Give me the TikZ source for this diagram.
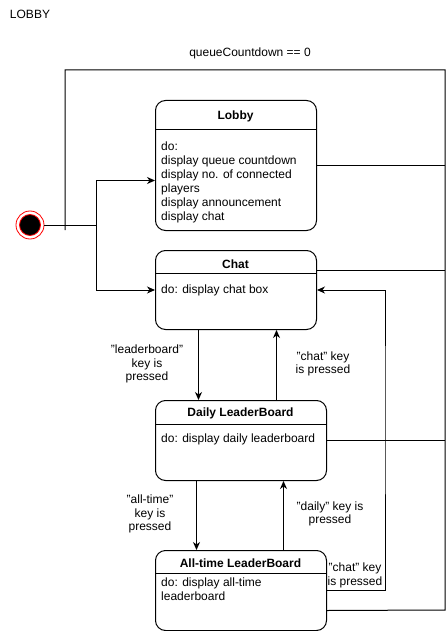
\documentclass[tikz,border=0pt]{standalone}
\usepackage{fontspec}
\setmainfont{Liberation Sans}
\usetikzlibrary{arrows.meta}
\begin{document}
\begin{tikzpicture}[x=1pt,y=-1pt,
  every node/.style={font=\fontsize{12}{14}\selectfont},
  statebox/.style={draw, rounded corners=10pt, line width=1pt, inner sep=0pt, anchor=north west},
  titletext/.style={font=\fontsize{12}{14}\selectfont\bfseries, inner sep=0pt},
  bodytext/.style={align=left, anchor=north west, inner sep=0pt},
  lbl/.style={align=center, inner sep=0pt, font=\fontsize{12}{13.5}\selectfont},
  conn/.style={line width=1pt},
  arr/.style={line width=1pt, -{Stealth[length=8pt,width=7pt,inset=2.5pt]}}]
\useasboundingbox (0,0) rectangle (447,631);

% title
\node[inner sep=0pt] (ttl) at (30,14) {LOBBY};
\node[inner sep=0pt] (qlbl) at (250,53) {queueCountdown == 0};

% initial state
\node[circle, draw=red, line width=0.8pt, minimum size=28pt, inner sep=0pt,
  path picture={\fill[black, draw=red, line width=0.8pt] (path picture bounding box.center) circle (10.5pt);}] (init) at (30,225) {};

% states
\node[statebox, minimum width=161pt, minimum height=130pt] (lobby) at (155,100) {};
\draw[conn] (155,130) -- (316,130);
\node[titletext] (lobbyT) at (235.5,116.5) {Lobby};
\node[bodytext] (lobbyB) at (161,142) {do:\\display queue countdown\\display no. of connected\\players\\display announcement\\display chat};

\node[statebox, minimum width=161pt, minimum height=79pt] (chat) at (155,250) {};
\draw[conn] (155,273) -- (316,273);
\node[titletext] (chatT) at (235.5,264) {Chat};
\node[bodytext, anchor=west] (chatB) at (161,290) {do: display chat box};

\node[statebox, minimum width=171pt, minimum height=80pt] (daily) at (155,400) {};
\draw[conn] (155,424) -- (326,424);
\node[titletext] (dailyT) at (240.5,413) {Daily LeaderBoard};
\node[bodytext, anchor=west] (dailyB) at (161,439.5) {do: display daily leaderboard};

\node[statebox, minimum width=171pt, minimum height=80pt] (atime) at (155,550) {};
\draw[conn] (155,573) -- (326,573);
\node[titletext] (atimeT) at (240.5,563) {All-time LeaderBoard};
\node[bodytext] (atimeB) at (161,578) {do: display all-time\\leaderboard};

% coordinates
\coordinate (j) at (96,225);
\coordinate (tl) at (65,70);
\coordinate (tr) at (445,70);
\coordinate (bl) at (65,230);
\coordinate (br) at (445,610);
\coordinate (rx) at (385,400);

% initial transitions
\draw[conn] (init.east) -- (j);
\draw[arr] (j) |- ([yshift=-15pt]lobby.west);
\draw[arr] (j) |- (chat.west);

% queueCountdown loop
\draw[conn] (bl) -- (tl) -- (tr) -- (br) -- ([yshift=-20pt]atime.east);
\draw[conn] (lobby.east) -- (lobby.east -| tr);
\draw[conn] ([yshift=20pt]chat.east) -- ([yshift=20pt]chat.east -| tr);
\draw[conn] (daily.east) -- (daily.east -| tr);

% chat <-> daily
\draw[arr] ([xshift=-37.5pt]chat.south) -- ([xshift=-37.5pt]chat.south |- daily.north);
\draw[arr] ([xshift=40.5pt]chat.south |- daily.north) -- ([xshift=40.5pt]chat.south);
\node[lbl] (l1) at (147,364) {"leaderboard"\\key is\\pressed};
\node[lbl] (l2) at (323,364) {"chat" key\\is pressed};

% daily <-> all-time
\draw[arr] ([xshift=-44.5pt]daily.south) -- ([xshift=-44.5pt]daily.south |- atime.north);
\draw[arr] ([xshift=42.5pt]daily.south |- atime.north) -- ([xshift=42.5pt]daily.south);
\node[lbl] (l3) at (150,514) {"all-time"\\key is\\pressed};
\node[lbl] (l4) at (330,514) {"daily" key is\\pressed};

% all-time -> chat
\draw[arr] (atime.east) -| (rx) |- (chat.east);
\node[lbl] (l5) at (355,575.5) {"chat" key\\is pressed};
\end{tikzpicture}
\end{document}
